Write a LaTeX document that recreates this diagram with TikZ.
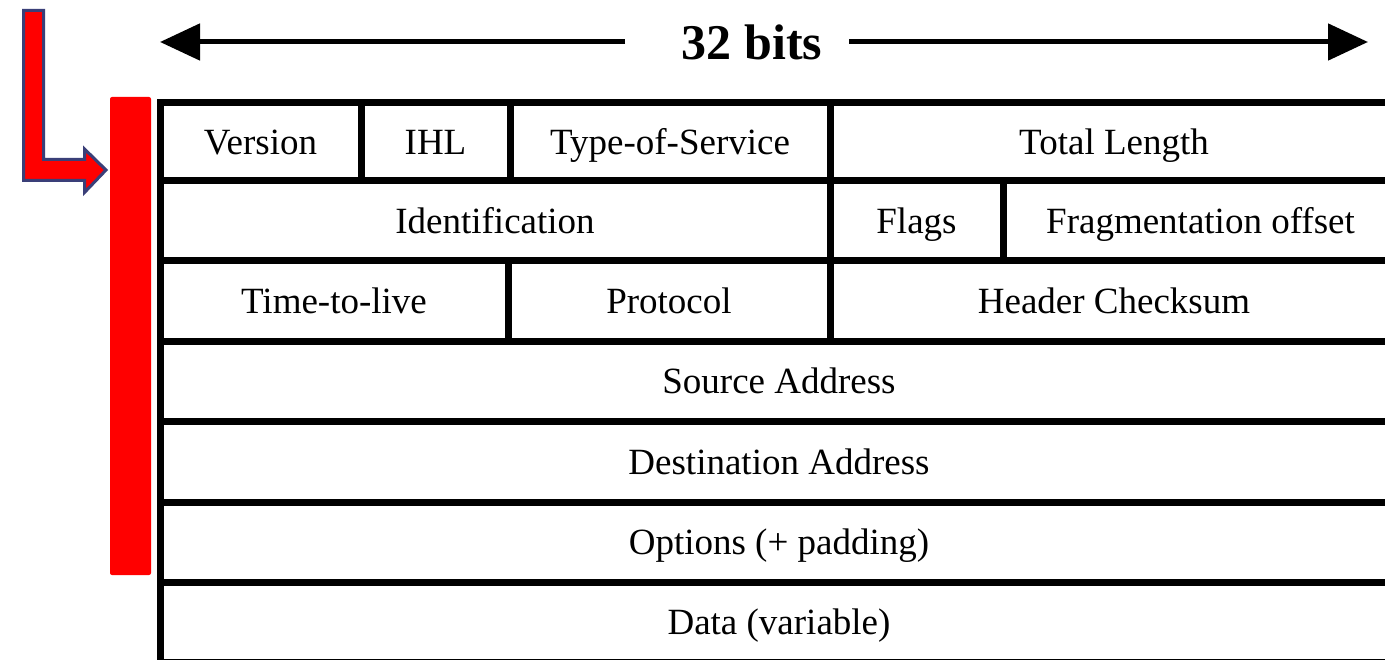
\documentclass[tikz,border=0pt]{standalone}
\usepackage{fontspec}
\setmainfont{Liberation Serif}
\usetikzlibrary{arrows.meta}
\definecolor{bandred}{HTML}{FF0000}
\definecolor{arrowrim}{HTML}{3A3F78}
\tikzset{
  cell/.style={draw=black, line width=7pt, rectangle, inner sep=0pt,
    text height=25pt, text depth=0pt,
    font=\fontsize{37}{40}\selectfont, text=black},
  widtharrow/.style={line width=5pt, -{Triangle[length=40pt,width=36pt]}},
  bitslabel/.style={font=\bfseries\fontsize{50}{54}\selectfont, inner sep=0pt},
  rail/.style={fill=bandred, draw=none, rounded corners=2pt},
  pointer/.style={fill=bandred, draw=arrowrim, line width=3pt, line join=miter}
}
\begin{document}
\begin{tikzpicture}[x=1pt, y=-1pt]
\useasboundingbox (0,0) rectangle (1385,660);
\clip (0,0) rectangle (1385,660);
\fill[white] (0,0) rectangle (1385,660);

% width indicator
\node[bitslabel] (bits) at (752,42) {32 bits};
\coordinate (leftgap) at (625,42);
\coordinate (rightgap) at (849,42);
\coordinate (leftend) at (160,42);
\coordinate (rightend) at (1368,42);
\draw[widtharrow] (leftgap) -- (leftend);
\draw[widtharrow] (rightgap) -- (rightend);

% header bar and pointer
\node[rail, minimum width=41pt, minimum height=478pt, inner sep=0pt] (bar) at (130.5,336) {};
\draw[pointer] (23.5,10.5) -- (43.5,10.5) -- (43.5,159.5) -- (84.5,159.5) -- (84.5,149)
  -- (106,170) -- (84.5,192.5) -- (84.5,180.5) -- (23.5,180.5) -- cycle;

% row 1
\node[cell, minimum width=201pt, minimum height=78pt] (ver) at (260.5,142) {Version};
\node[cell, minimum width=149pt, minimum height=78pt] (ihl) at (435.5,142) {IHL};
\node[cell, minimum width=320pt, minimum height=78pt] (tos) at (670,142) {Type-of-Service};
\node[cell, minimum width=568pt, minimum height=78pt] (len) at (1114,142) {Total Length};
% row 2
\node[cell, minimum width=670pt, minimum height=80pt] (ident) at (495,221) {Identification};
\node[cell, minimum width=173pt, minimum height=80pt] (flags) at (916.5,221) {Flags};
\node[cell, minimum width=395pt, minimum height=80pt] (frag) at (1200.5,221) {Fragmentation offset};
% row 3
\node[cell, minimum width=348pt, minimum height=81pt] (ttl) at (334,301.5) {Time-to-live};
\node[cell, minimum width=322pt, minimum height=81pt] (proto) at (669,301.5) {Protocol};
\node[cell, minimum width=568pt, minimum height=81pt] (csum) at (1114,301.5) {Header Checksum};
% full-width rows
\node[cell, minimum width=1238pt, minimum height=79pt] (src) at (779,381.5) {Source Address};
\node[cell, minimum width=1238pt, minimum height=81pt] (dst) at (779,461.5) {Destination Address};
\node[cell, minimum width=1238pt, minimum height=80pt] (opt) at (779,542) {Options (+ padding)};
\node[cell, minimum width=1238pt, minimum height=80pt] (data) at (779,622) {Data (variable)};
\end{tikzpicture}
\end{document}
